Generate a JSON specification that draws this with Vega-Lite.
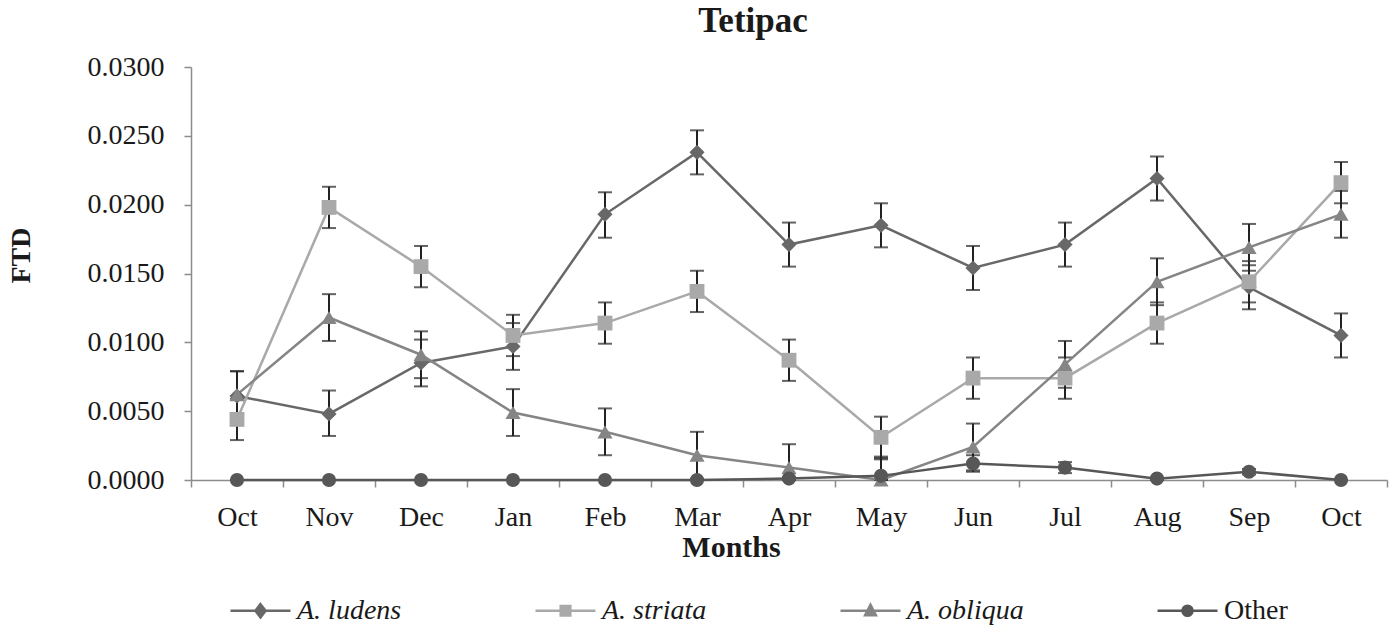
{
  "$schema": "https://vega.github.io/schema/vega-lite/v6.json",
  "width": 1196,
  "height": 413,
  "autosize": "none",
  "padding": {"left": 191, "top": 67, "right": 12, "bottom": 147},
  "background": "white",
  "config": {
    "font": "Liberation Serif",
    "view": {"stroke": null},
    "axis": {"grid": false, "domainColor": "#8c8c8c", "domainWidth": 1.5, "tickColor": "#8c8c8c", "tickWidth": 1.5, "tickSize": 7, "labelFont": "Liberation Serif", "labelFontSize": 28, "labelColor": "#1a1a1a", "titleFont": "Liberation Serif", "titleFontWeight": "bold", "titleFontSize": 28, "titleColor": "#1a1a1a"}
  },
  "title": {"text": "Tetipac", "font": "Liberation Serif", "fontSize": 35, "fontWeight": "bold", "color": "#1a1a1a", "anchor": "middle", "frame": "group", "dx": -36, "offset": 14},
  "data": {"values": [
    {"m": "Oct1", "s": "A. ludens", "v": 0.0061, "lo": 0.0043, "hi": 0.0079},
    {"m": "Nov", "s": "A. ludens", "v": 0.0048, "lo": 0.0032, "hi": 0.0065},
    {"m": "Dec", "s": "A. ludens", "v": 0.0085, "lo": 0.0068, "hi": 0.0102},
    {"m": "Jan", "s": "A. ludens", "v": 0.0097, "lo": 0.0080, "hi": 0.0114},
    {"m": "Feb", "s": "A. ludens", "v": 0.0193, "lo": 0.0176, "hi": 0.0209},
    {"m": "Mar", "s": "A. ludens", "v": 0.0238, "lo": 0.0222, "hi": 0.0254},
    {"m": "Apr", "s": "A. ludens", "v": 0.0171, "lo": 0.0155, "hi": 0.0187},
    {"m": "May", "s": "A. ludens", "v": 0.0185, "lo": 0.0169, "hi": 0.0201},
    {"m": "Jun", "s": "A. ludens", "v": 0.0154, "lo": 0.0138, "hi": 0.0170},
    {"m": "Jul", "s": "A. ludens", "v": 0.0171, "lo": 0.0155, "hi": 0.0187},
    {"m": "Aug", "s": "A. ludens", "v": 0.0219, "lo": 0.0203, "hi": 0.0235},
    {"m": "Sep", "s": "A. ludens", "v": 0.0140, "lo": 0.0124, "hi": 0.0156},
    {"m": "Oct2", "s": "A. ludens", "v": 0.0105, "lo": 0.0089, "hi": 0.0121},
    {"m": "Oct1", "s": "A. striata", "v": 0.0044, "lo": 0.0029, "hi": 0.0059},
    {"m": "Nov", "s": "A. striata", "v": 0.0198, "lo": 0.0183, "hi": 0.0213},
    {"m": "Dec", "s": "A. striata", "v": 0.0155, "lo": 0.0140, "hi": 0.0170},
    {"m": "Jan", "s": "A. striata", "v": 0.0105, "lo": 0.0090, "hi": 0.0120},
    {"m": "Feb", "s": "A. striata", "v": 0.0114, "lo": 0.0099, "hi": 0.0129},
    {"m": "Mar", "s": "A. striata", "v": 0.0137, "lo": 0.0122, "hi": 0.0152},
    {"m": "Apr", "s": "A. striata", "v": 0.0087, "lo": 0.0072, "hi": 0.0102},
    {"m": "May", "s": "A. striata", "v": 0.0031, "lo": 0.0016, "hi": 0.0046},
    {"m": "Jun", "s": "A. striata", "v": 0.0074, "lo": 0.0059, "hi": 0.0089},
    {"m": "Jul", "s": "A. striata", "v": 0.0074, "lo": 0.0059, "hi": 0.0089},
    {"m": "Aug", "s": "A. striata", "v": 0.0114, "lo": 0.0099, "hi": 0.0129},
    {"m": "Sep", "s": "A. striata", "v": 0.0144, "lo": 0.0129, "hi": 0.0159},
    {"m": "Oct2", "s": "A. striata", "v": 0.0216, "lo": 0.0201, "hi": 0.0231},
    {"m": "Oct1", "s": "A. obliqua", "v": 0.0062, "lo": 0.0045, "hi": 0.0079},
    {"m": "Nov", "s": "A. obliqua", "v": 0.0118, "lo": 0.0101, "hi": 0.0135},
    {"m": "Dec", "s": "A. obliqua", "v": 0.0091, "lo": 0.0074, "hi": 0.0108},
    {"m": "Jan", "s": "A. obliqua", "v": 0.0049, "lo": 0.0032, "hi": 0.0066},
    {"m": "Feb", "s": "A. obliqua", "v": 0.0035, "lo": 0.0018, "hi": 0.0052},
    {"m": "Mar", "s": "A. obliqua", "v": 0.0018, "lo": 0.0001, "hi": 0.0035},
    {"m": "Apr", "s": "A. obliqua", "v": 0.0009, "lo": 0.0, "hi": 0.0026},
    {"m": "May", "s": "A. obliqua", "v": 0.0, "lo": 0.0, "hi": 0.0017},
    {"m": "Jun", "s": "A. obliqua", "v": 0.0024, "lo": 0.0007, "hi": 0.0041},
    {"m": "Jul", "s": "A. obliqua", "v": 0.0084, "lo": 0.0067, "hi": 0.0101},
    {"m": "Aug", "s": "A. obliqua", "v": 0.0144, "lo": 0.0127, "hi": 0.0161},
    {"m": "Sep", "s": "A. obliqua", "v": 0.0169, "lo": 0.0152, "hi": 0.0186},
    {"m": "Oct2", "s": "A. obliqua", "v": 0.0193, "lo": 0.0176, "hi": 0.0210},
    {"m": "Oct1", "s": "Other", "v": 0.0, "lo": 0.0, "hi": 0.0},
    {"m": "Nov", "s": "Other", "v": 0.0, "lo": 0.0, "hi": 0.0},
    {"m": "Dec", "s": "Other", "v": 0.0, "lo": 0.0, "hi": 0.0},
    {"m": "Jan", "s": "Other", "v": 0.0, "lo": 0.0, "hi": 0.0},
    {"m": "Feb", "s": "Other", "v": 0.0, "lo": 0.0, "hi": 0.0},
    {"m": "Mar", "s": "Other", "v": 0.0, "lo": 0.0, "hi": 0.0},
    {"m": "Apr", "s": "Other", "v": 0.0001, "lo": 0.0, "hi": 0.0002},
    {"m": "May", "s": "Other", "v": 0.0003, "lo": 0.0, "hi": 0.0015},
    {"m": "Jun", "s": "Other", "v": 0.0012, "lo": 0.0006, "hi": 0.0018},
    {"m": "Jul", "s": "Other", "v": 0.0009, "lo": 0.0005, "hi": 0.0013},
    {"m": "Aug", "s": "Other", "v": 0.0001, "lo": 0.0, "hi": 0.0001},
    {"m": "Sep", "s": "Other", "v": 0.0006, "lo": 0.0004, "hi": 0.0008},
    {"m": "Oct2", "s": "Other", "v": 0.0, "lo": 0.0, "hi": 0.0}
  ]},
  "encoding": {
    "x": {
      "field": "m", "type": "ordinal",
      "sort": ["Oct1", "Nov", "Dec", "Jan", "Feb", "Mar", "Apr", "May", "Jun", "Jul", "Aug", "Sep", "Oct2"],
      "scale": {"type": "band", "paddingInner": 0, "paddingOuter": 0},
      "axis": {"title": "Months", "labelExpr": "substring(datum.label, 0, 3)", "labelAngle": 0, "tickBand": "extent", "labelPadding": 16, "titleX": 540, "titleY": 67, "titleBaseline": "middle", "titleAlign": "center", "titleFontSize": 30}
    }
  },
  "layer": [
    {
      "mark": {"type": "errorbar", "ticks": {"size": 14, "color": "#222222", "thickness": 2}, "rule": {"color": "#222222", "strokeWidth": 2}},
      "encoding": {
        "y": {"field": "lo", "type": "quantitative", "scale": {"domain": [0, 0.03]}, "title": "FTD"},
        "y2": {"field": "hi"},
        "detail": {"field": "s"}
      }
    },
    {
      "mark": {"type": "line", "strokeWidth": 2.5},
      "encoding": {
        "y": {"field": "v", "type": "quantitative", "scale": {"domain": [0, 0.03]},
          "axis": {"title": "FTD", "values": [0, 0.005, 0.01, 0.015, 0.02, 0.025, 0.03], "format": ".4f", "labelPadding": 20, "titleX": -170, "titleY": 188, "titleAngle": -90, "titleBaseline": "middle", "titleAlign": "center"}},
        "color": {"field": "s", "type": "nominal",
          "scale": {"domain": ["A. ludens", "A. striata", "A. obliqua", "Other"], "range": ["#686868", "#a9a9a9", "#858585", "#575757"]},
          "legend": {
            "title": null, "orient": "none", "direction": "horizontal", "legendX": 38, "legendY": 512,
            "symbolSize": 3600, "symbolStrokeWidth": 2.5, "labelFontSize": 28, "labelFont": "Liberation Serif", "labelColor": "#1a1a1a", "labelOffset": 5, "columnPadding": 128, "labelLimit": 300,
            "encode": {
              "symbols": {"update": {
                "shape": {"signal": "datum.value === 'A. ludens' ? 'M-1,0H1M0,-0.22L0.17,0L0,0.22L-0.17,0Z' : datum.value === 'A. striata' ? 'M-1,0H1M-0.16,-0.16H0.16V0.16H-0.16Z' : datum.value === 'A. obliqua' ? 'M-1,0H1M0,-0.2L0.18,0.15H-0.18Z' : 'M-1,0H1M-0.17,0A0.17,0.17 0 1,0 0.17,0A0.17,0.17 0 1,0 -0.17,0Z'"},
                "fill": {"signal": "datum.value === 'A. ludens' ? '#686868' : datum.value === 'A. striata' ? '#a9a9a9' : datum.value === 'A. obliqua' ? '#858585' : '#575757'"},
                "stroke": {"signal": "datum.value === 'A. ludens' ? '#686868' : datum.value === 'A. striata' ? '#a9a9a9' : datum.value === 'A. obliqua' ? '#858585' : '#575757'"},
                "opacity": {"value": 1},
                "fillOpacity": {"value": 1}
              }},
              "labels": {"update": {"fontStyle": {"signal": "datum.value === 'Other' ? 'normal' : 'italic'"}}}
            }
          }
        }
      }
    },
    {
      "transform": [{"filter": "datum.s === 'A. ludens'"}],
      "mark": {"type": "point", "shape": "diamond", "filled": true, "opacity": 1, "size": 230},
      "encoding": {"y": {"field": "v", "type": "quantitative"}, "color": {"field": "s", "type": "nominal"}}
    },
    {
      "transform": [{"filter": "datum.s === 'A. striata'"}],
      "mark": {"type": "point", "shape": "square", "filled": true, "opacity": 1, "size": 220},
      "encoding": {"y": {"field": "v", "type": "quantitative"}, "color": {"field": "s", "type": "nominal"}}
    },
    {
      "transform": [{"filter": "datum.s === 'A. obliqua'"}],
      "mark": {"type": "point", "shape": "triangle-up", "filled": true, "opacity": 1, "size": 230},
      "encoding": {"y": {"field": "v", "type": "quantitative"}, "color": {"field": "s", "type": "nominal"}}
    },
    {
      "transform": [{"filter": "datum.s === 'Other'"}],
      "mark": {"type": "point", "shape": "circle", "filled": true, "opacity": 1, "size": 200},
      "encoding": {"y": {"field": "v", "type": "quantitative"}, "color": {"field": "s", "type": "nominal"}}
    }
  ]
}
